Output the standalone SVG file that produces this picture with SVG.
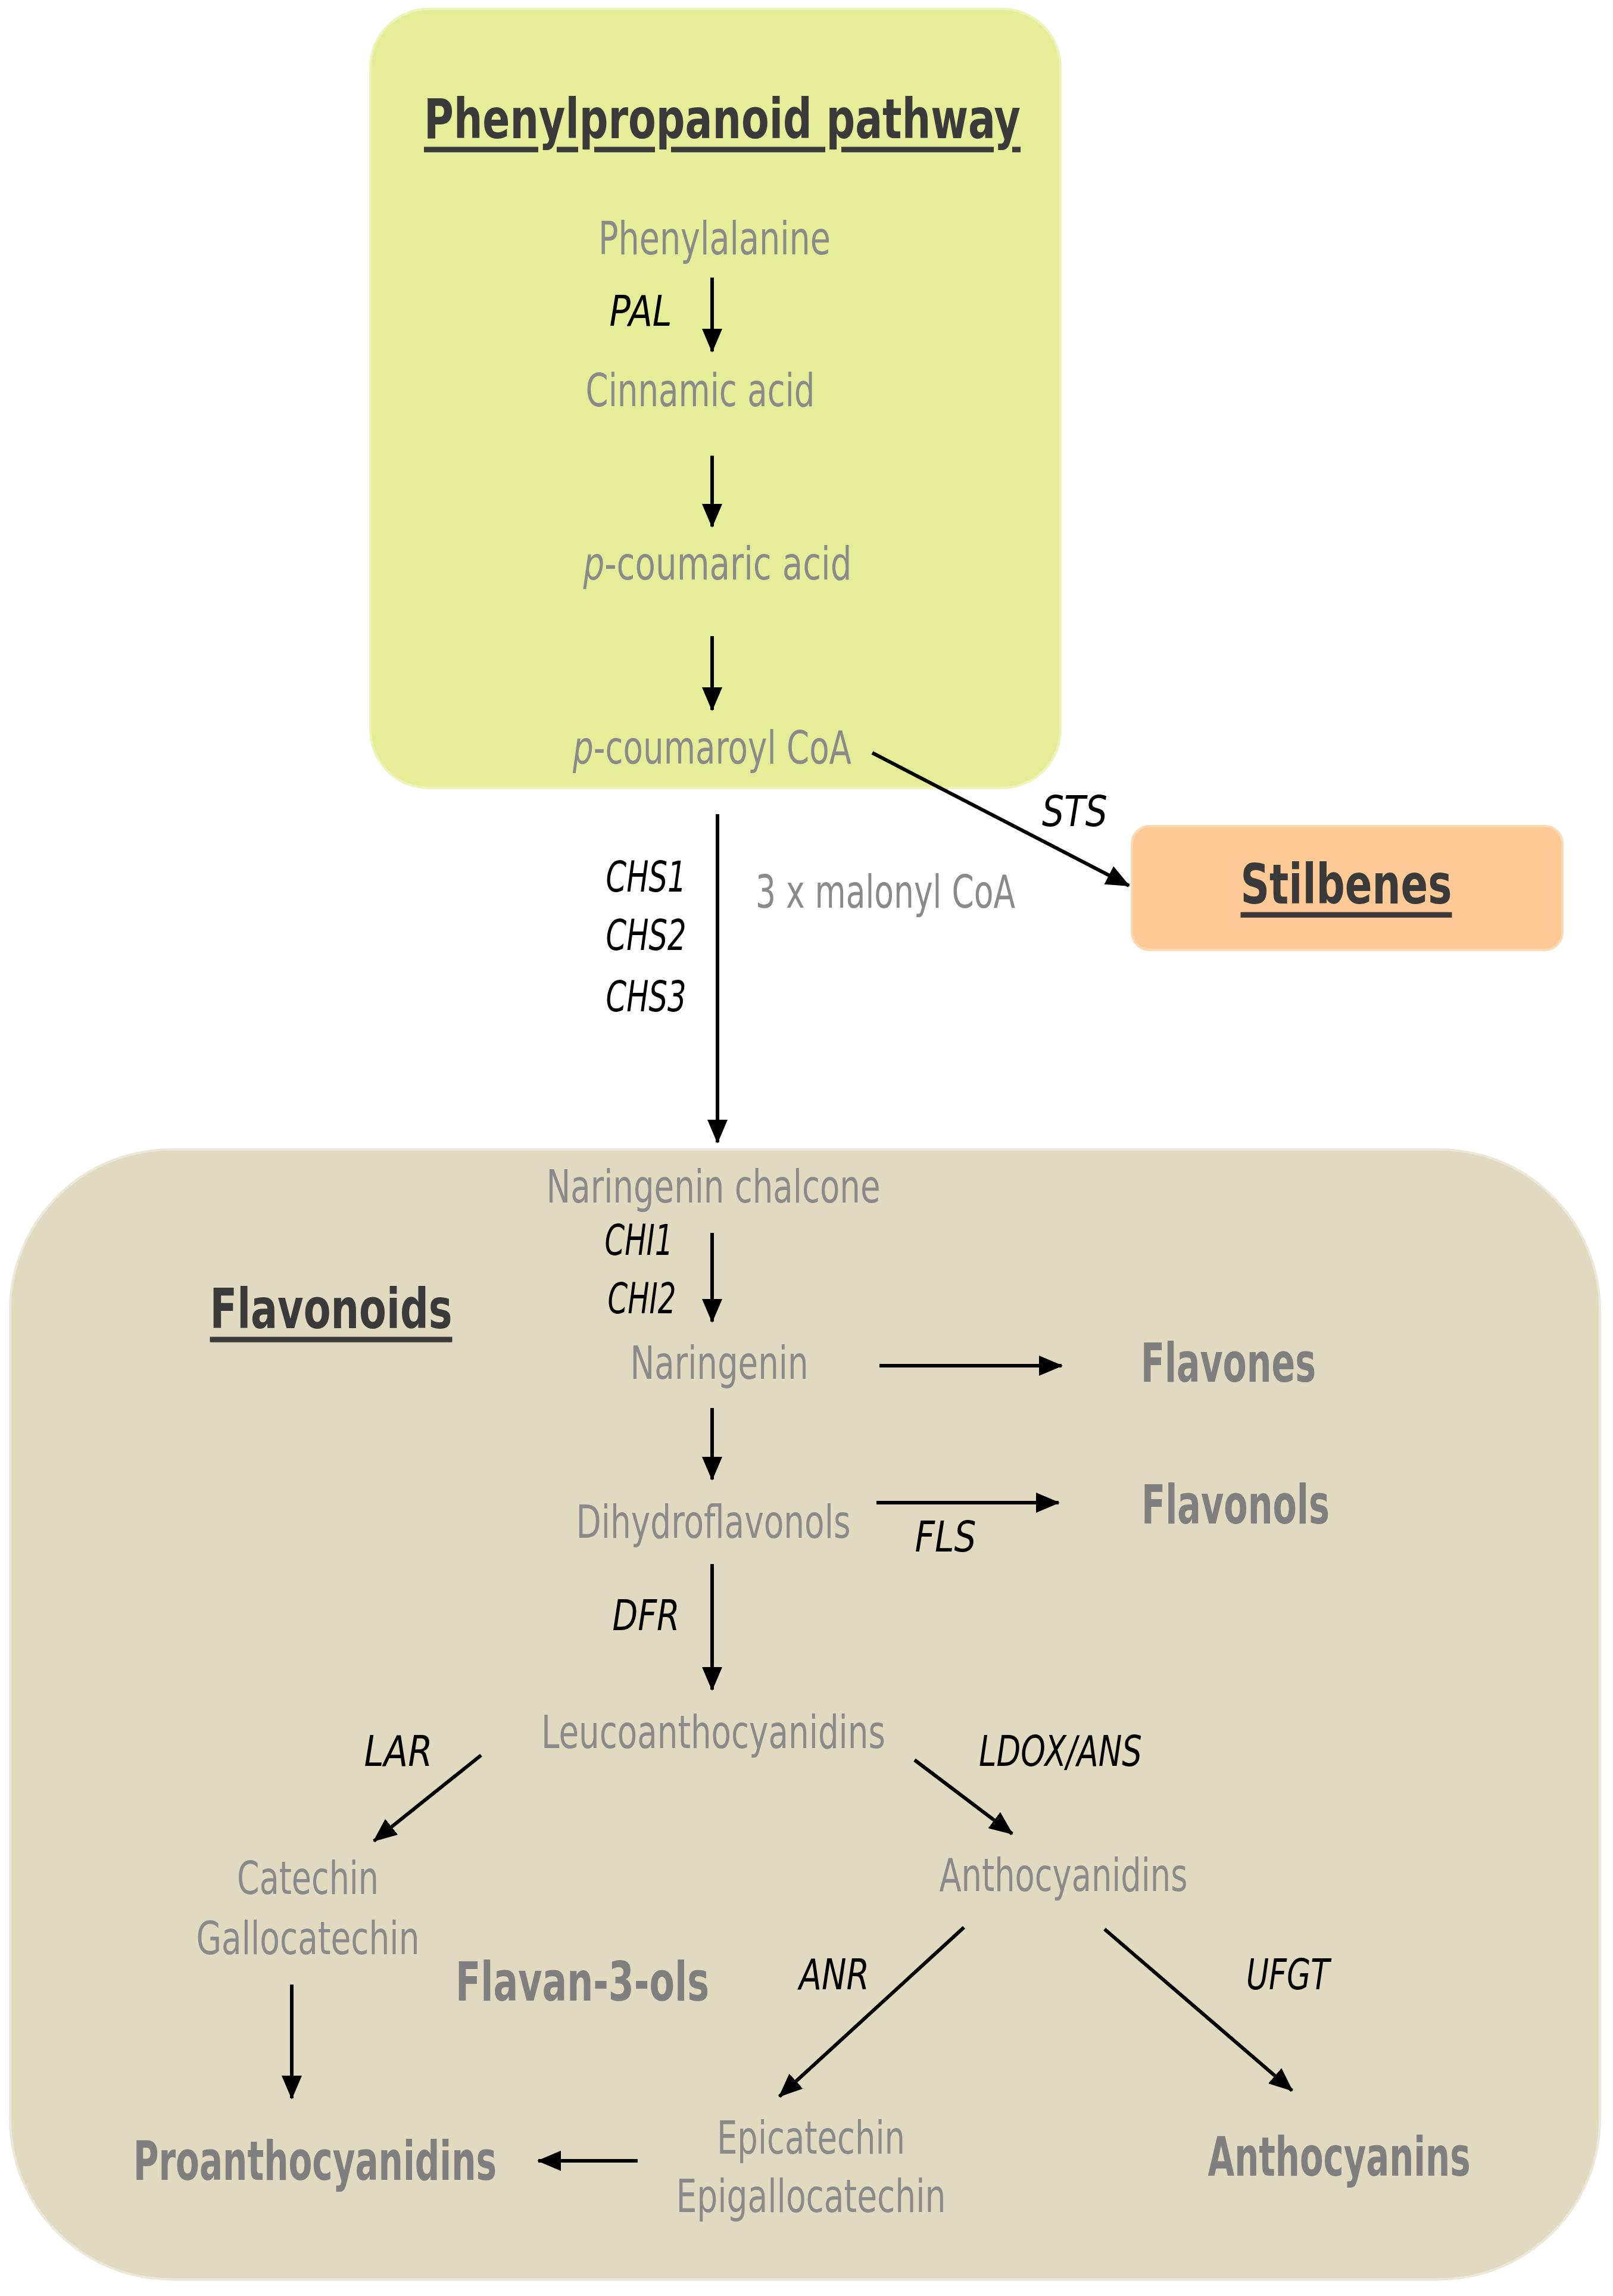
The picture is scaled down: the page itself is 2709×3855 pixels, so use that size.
<svg xmlns="http://www.w3.org/2000/svg" width="2709" height="3855" viewBox="0 0 2709 3855">
<style>
text{font-family:"DejaVu Sans Condensed","DejaVu Sans",sans-serif;font-stretch:condensed;text-anchor:middle;dominant-baseline:central;lengthAdjust:spacingAndGlyphs}
.g{fill:#8a8a8a;font-size:76px}
.b{fill:#7f7f7f;font-size:90px;font-weight:bold}
.h{fill:#3a3a3a;font-size:92px;font-weight:bold;text-decoration:underline}
.e{fill:#000;font-size:72px;font-style:italic}
.c line{stroke:#000;stroke-width:6;marker-end:url(#a)}
</style>
<defs><marker id="a" markerUnits="userSpaceOnUse" markerWidth="40" markerHeight="34" refX="38" refY="17" orient="auto"><path d="M0,0L40,17L0,34z" fill="#000"/></marker></defs>
<g id="phenylpropanoid"><rect x="622" y="15" width="1159" height="1308" rx="98" fill="#e5ed98" stroke="#eef3b8" stroke-width="4"/>
<text class="h" x="1213" y="200" font-size="104" textLength="1002" lengthAdjust="spacingAndGlyphs">Phenylpropanoid pathway</text></g>
<g id="flavonoids-box"><rect x="17" y="1930" width="2670" height="1897" rx="270" fill="#e0dac1" stroke="#ece8d8" stroke-width="4"/>
<text class="h" x="556" y="2198" textLength="407" lengthAdjust="spacingAndGlyphs">Flavonoids</text></g>
<g id="stilbenes"><rect x="1901" y="1387" width="723" height="208" rx="30" fill="#fdc994" stroke="#fcd9b0" stroke-width="4"/>
<text class="h" x="2261" y="1485" textLength="355" lengthAdjust="spacingAndGlyphs">Stilbenes</text></g>
<g id="n-phe"><text class="g" x="1200" y="400" textLength="390" lengthAdjust="spacingAndGlyphs">Phenylalanine</text></g>
<g id="n-cin"><text class="g" x="1176" y="655" textLength="385" lengthAdjust="spacingAndGlyphs">Cinnamic acid</text></g>
<g id="n-pca"><text class="g" x="1205" y="946" textLength="451" lengthAdjust="spacingAndGlyphs"><tspan font-style="italic">p</tspan>-coumaric acid</text></g>
<g id="n-pcoa"><text class="g" x="1196" y="1255" textLength="468" lengthAdjust="spacingAndGlyphs"><tspan font-style="italic">p</tspan>-coumaroyl CoA</text></g>
<g id="n-mal"><text class="g" x="1487" y="1497" textLength="436" lengthAdjust="spacingAndGlyphs">3 x malonyl CoA</text></g>
<g id="n-nc"><text class="g" x="1198" y="1992" textLength="561" lengthAdjust="spacingAndGlyphs">Naringenin chalcone</text></g>
<g id="n-nar"><text class="g" x="1208" y="2288" textLength="299" lengthAdjust="spacingAndGlyphs">Naringenin</text></g>
<g id="n-flavones"><text class="b" x="2063" y="2288" textLength="294" lengthAdjust="spacingAndGlyphs">Flavones</text></g>
<g id="n-dhf"><text class="g" x="1198" y="2555" textLength="461" lengthAdjust="spacingAndGlyphs">Dihydroflavonols</text></g>
<g id="n-flavonols"><text class="b" x="2075" y="2526" textLength="316" lengthAdjust="spacingAndGlyphs">Flavonols</text></g>
<g id="n-leuco"><text class="g" x="1198" y="2908" textLength="578" lengthAdjust="spacingAndGlyphs">Leucoanthocyanidins</text></g>
<g id="n-cat"><text class="g" x="517" y="3153" textLength="238" lengthAdjust="spacingAndGlyphs">Catechin</text><text class="g" x="517" y="3254" textLength="375" lengthAdjust="spacingAndGlyphs">Gallocatechin</text></g>
<g id="n-antcy"><text class="g" x="1786" y="3148" textLength="417" lengthAdjust="spacingAndGlyphs">Anthocyanidins</text></g>
<g id="n-f3o"><text class="b" x="978" y="3327" textLength="426" lengthAdjust="spacingAndGlyphs">Flavan-3-ols</text></g>
<g id="n-epi"><text class="g" x="1362" y="3589" textLength="316" lengthAdjust="spacingAndGlyphs">Epicatechin</text><text class="g" x="1362" y="3687" textLength="453" lengthAdjust="spacingAndGlyphs">Epigallocatechin</text></g>
<g id="n-pro"><text class="b" x="529" y="3628" textLength="610" lengthAdjust="spacingAndGlyphs">Proanthocyanidins</text></g>
<g id="n-anthocyanins"><text class="b" x="2249" y="3621" textLength="441" lengthAdjust="spacingAndGlyphs">Anthocyanins</text></g>
<g id="connectors" class="c">
<line x1="1196" y1="466" x2="1196" y2="590"/>
<line x1="1196" y1="765" x2="1196" y2="884"/>
<line x1="1196" y1="1068" x2="1196" y2="1192"/>
<line x1="1465" y1="1264" x2="1896" y2="1487"/>
<line x1="1205" y1="1367" x2="1205" y2="1918"/>
<line x1="1196" y1="2070" x2="1196" y2="2219"/>
<line x1="1477" y1="2293" x2="1783" y2="2293"/>
<line x1="1196" y1="2364" x2="1196" y2="2484"/>
<line x1="1472" y1="2523" x2="1778" y2="2523"/>
<line x1="1196" y1="2626" x2="1196" y2="2837"/>
<line x1="808" y1="2947" x2="628" y2="3091"/>
<line x1="1536" y1="2955" x2="1700" y2="3079"/>
<line x1="490" y1="3332" x2="490" y2="3523"/>
<line x1="1619" y1="3236" x2="1309" y2="3520"/>
<line x1="1855" y1="3239" x2="2170" y2="3510"/>
<line x1="1071" y1="3628" x2="904" y2="3628"/>
</g>
<g id="labels">
<text class="e" x="1076" y="522" textLength="105" lengthAdjust="spacingAndGlyphs">PAL</text>
<text class="e" x="1805" y="1362" textLength="110" lengthAdjust="spacingAndGlyphs">STS</text>
<text class="e" x="1085" y="1472" textLength="135" lengthAdjust="spacingAndGlyphs">CHS1</text>
<text class="e" x="1085" y="1570" textLength="135" lengthAdjust="spacingAndGlyphs">CHS2</text>
<text class="e" x="1085" y="1673" textLength="135" lengthAdjust="spacingAndGlyphs">CHS3</text>
<text class="e" x="1073" y="2082" textLength="115" lengthAdjust="spacingAndGlyphs">CHI1</text>
<text class="e" x="1078" y="2180" textLength="115" lengthAdjust="spacingAndGlyphs">CHI2</text>
<text class="e" x="1588" y="2580" textLength="103" lengthAdjust="spacingAndGlyphs">FLS</text>
<text class="e" x="1085" y="2712" textLength="113" lengthAdjust="spacingAndGlyphs">DFR</text>
<text class="e" x="669" y="2940" textLength="115" lengthAdjust="spacingAndGlyphs">LAR</text>
<text class="e" x="1781" y="2940" textLength="274" lengthAdjust="spacingAndGlyphs">LDOX/ANS</text>
<text class="e" x="1401" y="3315" textLength="118" lengthAdjust="spacingAndGlyphs">ANR</text>
<text class="e" x="2163" y="3315" textLength="140" lengthAdjust="spacingAndGlyphs">UFGT</text>
</g>
</svg>
